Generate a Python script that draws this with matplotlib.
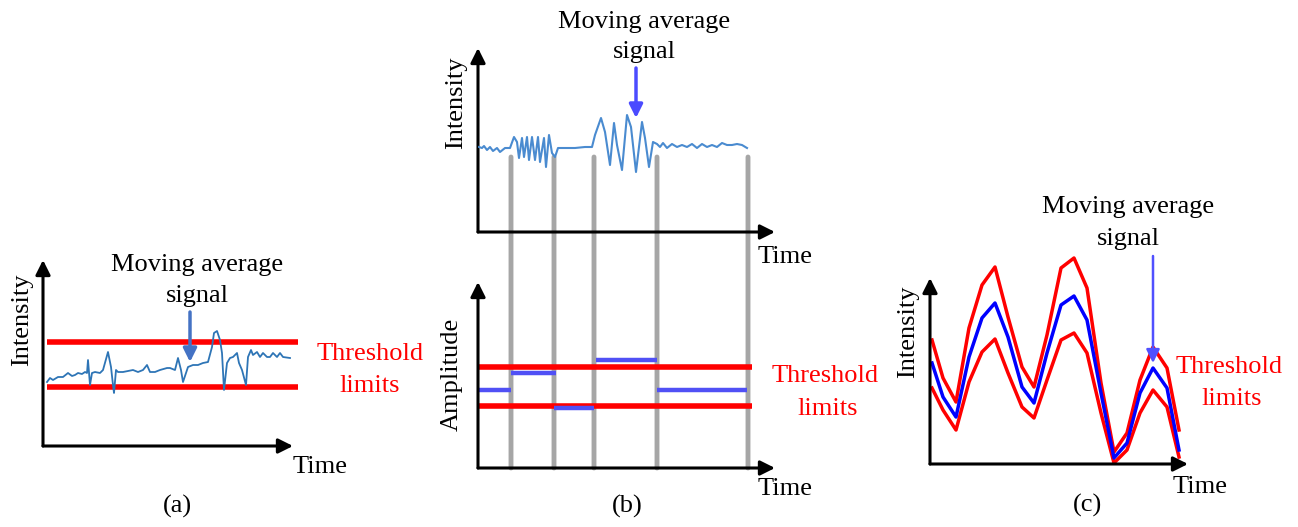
import matplotlib.pyplot as plt
from matplotlib.patches import ConnectionPatch

plt.rcParams['font.family'] = ['Liberation Serif', 'DejaVu Serif']

W, H = 1298, 527
FS = 19

# ---- panel (a): noisy signal between two fixed limits ----
a_time = [4, 7, 10, 15, 20, 25, 29, 32, 35, 39, 42, 44, 45, 47, 49, 52, 57, 60,
          65, 68, 70, 71, 73, 75, 80, 85, 90, 95, 100, 104, 107, 112, 117, 124,
          127, 132, 135, 138, 140, 143, 145, 150, 155, 160, 165, 169, 171, 174,
          177, 179, 181, 184, 187, 190, 194, 196, 199, 203, 205, 208, 210, 214,
          217, 220, 224, 227, 230, 234, 237, 240, 247]
a_signal = [64, 68, 66, 69, 69, 73, 70, 71, 73, 72, 74, 73, 86, 61, 73, 74, 73, 76,
            94, 79, 61, 53, 76, 74, 74, 75, 76, 74, 76, 81, 74, 74, 76, 78,
            78, 76, 88, 76, 64, 73, 79, 81, 81, 83, 84, 99, 113, 115,
            106, 93, 56, 83, 88, 89, 93, 83, 76, 61, 89, 96, 91, 94,
            89, 93, 89, 89, 93, 89, 93, 89, 88]
a_limits = [104, 59]
a_limit_span = [4, 255]
a_arrow = (147, 134, 84)   # time, tail, tip

# ---- panel (b) top: signal with bursts ----
b_time = [1, 4, 6, 9, 12, 15, 19, 22, 27, 32, 36, 39, 41, 44, 46, 49, 51, 54,
          57, 60, 62, 66, 68, 71, 74, 77, 80, 87, 97, 107, 114, 117, 123, 127,
          132, 136, 139, 144, 149, 153, 158, 164, 167, 171, 175, 179, 182, 185,
          189, 194, 199, 204, 209, 214, 219, 224, 229, 234, 239, 244, 249, 254,
          259, 264, 269]
b_signal = [85, 84, 86, 82, 85, 81, 84, 80, 84, 84, 95, 90, 74, 94, 75, 95, 72, 95,
            72, 95, 70, 94, 65, 97, 79, 75, 84, 84, 84, 85, 85, 97, 114, 100,
            67, 109, 87, 62, 117, 105, 60, 110, 94, 65, 90, 88, 85, 89,
            84, 88, 85, 87, 85, 88, 84, 88, 85, 87, 85, 89, 87, 87,
            88, 87, 84]
b_cuts = [33, 76, 116, 179, 270]
b_arrow = (158, 164, 114)

# ---- panel (b) bottom: segment amplitudes ----
b_seg_start = [0, 33, 76, 118, 179]
b_seg_end = [33, 78, 116, 179, 269]
b_seg_amp = [78, 95, 60, 108, 78]
b_limits = [101, 62]
b_limit_span = [0, 274]

# ---- panel (c): moving average with adaptive limits ----
c_time = [2, 13, 26, 39, 52, 65, 78, 92, 104, 117, 131, 144, 157, 171, 184,
          197, 210, 223, 237, 249]
c_avg = [101, 67, 47, 107, 146, 161, 127, 77, 61, 111, 159, 168, 144, 71, 6,
         21, 71, 96, 76, 14]
c_upper = [124, 86, 62, 136, 179, 197, 147, 97, 77, 129, 196, 206, 176, 81, 12,
           31, 84, 117, 96, 34]
c_lower = [76, 54, 34, 82, 112, 125, 91, 57, 46, 84, 124, 131, 111, 51, 1,
           14, 51, 74, 57, 7]
c_arrow = (223, 208, 101)

fig = plt.figure(figsize=(W / 100, H / 100), dpi=100)


def panel(x0, y0, w, h):
    """Axes whose origin sits at pixel (x0, y0), with arrow-tipped axes."""
    ax = fig.add_axes([x0 / W, 1 - y0 / H, w / W, h / H])
    ax.set_xlim(0, w)
    ax.set_ylim(0, h)
    ax.axis('off')
    for tip in [(1, 0), (0, 1)]:
        ax.annotate('', xy=tip, xytext=(0, 0), xycoords='axes fraction',
                    arrowprops=dict(arrowstyle='-|>', color='black', lw=2.2,
                                    mutation_scale=22, shrinkA=0, shrinkB=0),
                    annotation_clip=False)
    return ax


def txt(x, y, s, **kw):
    kw.setdefault('fontsize', FS)
    fig.text(x / W, 1 - y / H, s, **kw)


def pointer(ax, spec, color, lw):
    t, tail, tip = spec
    ax.annotate('', xy=(t, tip), xytext=(t, tail),
                arrowprops=dict(arrowstyle='-|>', color=color, lw=lw,
                                mutation_scale=20, shrinkA=0, shrinkB=0),
                annotation_clip=False)


# (a)
ax_a = panel(43, 446, 250, 186)
for y in a_limits:
    ax_a.plot(a_limit_span, [y, y], color='#FF0000', lw=4, clip_on=False,
              solid_capstyle='butt')
ax_a.plot(a_time, a_signal, color='#2E75B6', lw=1.3)
pointer(ax_a, a_arrow, '#4472C4', 2.5)
txt(197, 271, 'Moving average', ha='center')
txt(197, 302, 'signal', ha='center')
txt(370, 360, 'Threshold', ha='center', color='#FF0000')
txt(370, 392, 'limits', ha='center', color='#FF0000')
txt(22, 320, 'Intensity', rotation=90, ha='center', va='center')
txt(293, 473, 'Time')
txt(177, 513, '(a)', ha='center')

# (b) top
ax_bt = panel(478, 232, 297, 184)
ax_bt.plot(b_time, b_signal, color='#4A8BD0', lw=1.5, zorder=3)
pointer(ax_bt, b_arrow, '#4B4BFF', 2.5)
txt(644, 28, 'Moving average', ha='center')
txt(644, 58, 'signal', ha='center')
txt(456, 103, 'Intensity', rotation=90, ha='center', va='center')
txt(758, 263, 'Time')

# (b) bottom
ax_bb = panel(478, 468, 297, 186)
for t in b_cuts:
    con = ConnectionPatch(xyA=(t, 75), coordsA=ax_bt.transData,
                          xyB=(t, 0), coordsB=ax_bb.transData,
                          color='#A6A6A6', lw=3.5, zorder=-1)
    fig.add_artist(con)
for y in b_limits:
    ax_bb.plot(b_limit_span, [y, y], color='#FF0000', lw=4,
               solid_capstyle='butt')
for s, e, v in zip(b_seg_start, b_seg_end, b_seg_amp):
    ax_bb.plot([s, e], [v, v], color='#5050F5', lw=3.2, solid_capstyle='butt')
txt(825, 382, 'Threshold', ha='center', color='#FF0000')
txt(828, 415, 'limits', ha='center', color='#FF0000')
txt(452, 374, 'Amplitude', rotation=90, ha='center', va='center')
txt(758, 495, 'Time')
txt(627, 513, '(b)', ha='center')

# (c)
ax_c = panel(930, 464, 258, 186)
ax_c.plot(c_time, c_upper, color='#FF0000', lw=2.5, clip_on=False)
ax_c.plot(c_time, c_lower, color='#FF0000', lw=2.5, clip_on=False)
ax_c.plot(c_time, c_avg, color='#0000FF', lw=2.5, clip_on=False)
pointer(ax_c, c_arrow, '#5050FF', 1.8)
txt(1128, 213, 'Moving average', ha='center')
txt(1128, 245, 'signal', ha='center')
txt(1229, 373, 'Threshold', ha='center', color='#FF0000')
txt(1232, 405, 'limits', ha='center', color='#FF0000')
txt(908, 332, 'Intensity', rotation=90, ha='center', va='center')
txt(1173, 493, 'Time')
txt(1088, 512, '(c)', ha='center')

fig.savefig('out.png', dpi=100, facecolor='white')
